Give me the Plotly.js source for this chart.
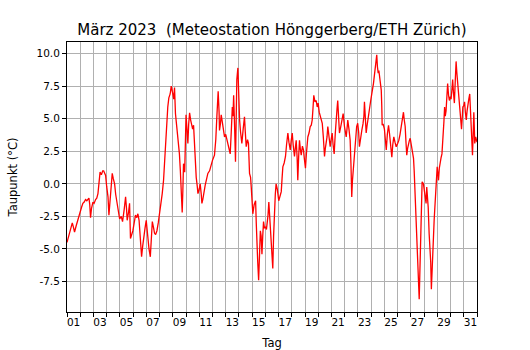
<!DOCTYPE html>
<html>
<head>
<meta charset="utf-8">
<script src="https://cdn.plot.ly/plotly-3.0.1.min.js"></script>
<style>html,body{margin:0;padding:0;background:#fff;}#chart{width:530px;height:350px;}</style>
</head>
<body>
<div id="chart"></div>
<script>
// Zeit in Tagen seit 1. März 2023 00:00
const tage = [
0.0,0.1,0.2,0.3,0.4,0.48,0.57,0.7,0.85,1.0,1.1,1.2,1.3,1.4,1.5,1.66,1.72,1.78,1.85,1.96,
2.05,2.16,2.25,2.34,2.42,2.5,2.6,2.7,2.77,2.85,2.92,3.0,3.1,3.17,3.22,3.27,3.35,3.42,3.5,3.6,
3.68,3.77,3.88,3.98,4.1,4.2,4.32,4.43,4.5,4.55,4.65,4.73,4.8,4.9,4.98,5.08,5.18,5.28,5.36,5.45,
5.49,5.58,5.64,5.72,5.79,5.9,5.99,6.05,6.12,6.2,6.3,6.38,6.45,6.55,6.62,6.7,6.8,6.9,7.0,7.1,
7.2,7.3,7.38,7.45,7.55,7.62,7.7,7.8,7.88,7.94,8.0,8.07,8.13,8.2,8.3,8.38,8.45,8.5,8.57,8.64,
8.71,8.76,8.81,8.9,8.95,9.0,9.07,9.14,9.2,9.27,9.35,9.42,9.5,9.57,9.64,9.7,9.77,9.85,9.9,10.0,
10.07,10.15,10.2,10.27,10.35,10.45,10.53,10.65,10.78,10.9,11.0,11.15,11.25,11.33,11.43,11.5,11.53,11.6,11.66,11.75,
11.83,11.91,12.0,12.08,12.16,12.25,12.34,12.42,12.5,12.55,12.6,12.67,12.74,12.8,12.84,12.92,12.98,13.05,13.12,13.22,
13.32,13.42,13.48,13.55,13.65,13.72,13.8,13.88,13.93,14.0,14.05,14.15,14.26,14.31,14.36,14.42,14.49,14.55,14.62,14.68,
14.74,14.8,14.86,14.93,15.01,15.08,15.14,15.2,15.26,15.33,15.41,15.48,15.56,15.62,15.69,15.75,15.81,15.9,16.01,16.1,
16.2,16.26,16.32,16.42,16.52,16.6,16.7,16.78,16.88,16.95,17.03,17.1,17.2,17.27,17.33,17.4,17.45,17.52,17.58,17.65,
17.71,17.8,17.88,17.95,18.03,18.1,18.21,18.3,18.39,18.47,18.54,18.6,18.66,18.75,18.84,18.92,18.99,19.07,19.15,19.22,
19.3,19.38,19.47,19.53,19.6,19.66,19.72,19.8,19.9,19.97,20.05,20.12,20.2,20.28,20.35,20.42,20.47,20.53,20.6,20.7,
20.81,20.88,20.98,21.05,21.11,21.17,21.23,21.32,21.41,21.47,21.53,21.58,21.66,21.74,21.81,21.9,21.98,22.05,22.11,22.2,
22.29,22.38,22.45,22.49,22.55,22.62,22.68,22.74,22.8,22.87,22.95,23.05,23.12,23.17,23.25,23.32,23.38,23.42,23.47,23.53,
23.58,23.63,23.7,23.76,23.8,23.83,23.9,24.0,24.07,24.14,24.22,24.31,24.38,24.44,24.5,24.56,24.63,24.71,24.8,24.89,
25.0,25.09,25.18,25.27,25.35,25.44,25.5,25.57,25.63,25.69,25.75,25.82,25.88,25.95,26.0,26.07,26.13,26.2,26.25,26.3,
26.35,26.4,26.44,26.48,26.52,26.55,26.6,26.63,26.67,26.7,26.74,26.78,26.82,26.85,26.95,27.0,27.05,27.1,27.15,27.2,
27.25,27.31,27.38,27.46,27.5,27.55,27.6,27.66,27.72,27.76,27.82,27.89,27.94,27.99,28.04,28.09,28.15,28.22,28.28,28.35,
28.4,28.45,28.5,28.55,28.6,28.66,28.72,28.78,28.85,28.91,28.98,29.04,29.1,29.16,29.22,29.29,29.36,29.42,29.47,29.52,
29.57,29.62,29.68,29.73,29.78,29.83,29.88,29.93,30.0,30.06,30.12,30.19,30.25,30.32,30.38,30.45,30.5,30.55,30.6,30.66,
30.71,30.76,30.8,30.83,30.9,30.96,31.0
];
// Taupunkt in °C
const taupunkt = [
-4.5,-4.1,-3.7,-3.4,-3.0,-3.3,-3.7,-3.2,-2.6,-2.0,-1.8,-1.5,-1.4,-1.2,-1.3,-1.1,-1.6,-2.6,-1.9,-1.4,
-1.5,-1.2,-1.1,-0.75,0.2,0.9,0.7,1.0,1.0,0.8,0.65,-0.2,-1.0,-2.4,-1.6,-1.0,0.2,0.8,0.4,0.0,
-0.8,-1.5,-2.2,-2.7,-2.5,-2.9,-2.0,-1.0,-1.9,-2.8,-2.2,-1.5,-4.2,-3.9,-3.6,-3.0,-2.4,-2.6,-2.3,-2.8,
-3.3,-4.5,-5.6,-4.8,-4.1,-3.4,-2.8,-3.6,-4.4,-5.0,-5.6,-4.0,-2.9,-3.4,-3.8,-3.9,-3.6,-3.0,-2.3,-1.6,
-0.75,0.27,1.8,3.35,5.15,5.9,6.6,6.9,7.5,7.0,6.9,6.5,7.4,5.4,4.4,3.6,3.1,2.3,1.0,-0.5,
-2.2,-0.5,1.55,0.9,3.0,5.3,4.2,3.1,4.6,5.45,4.9,4.65,4.2,4.5,2.6,1.5,0.5,-0.2,-0.75,-0.4,
0.0,-0.8,-1.5,-1.2,-0.6,-0.1,0.27,0.8,1.0,1.55,1.8,2.2,3.4,5.15,7.1,5.5,4.1,4.6,5.3,4.7,
4.0,3.6,3.8,3.4,3.2,2.8,2.3,4.0,5.9,5.2,6.8,4.5,1.7,5.5,8.0,8.9,6.8,4.9,4.0,3.1,
4.2,5.15,4.0,2.85,3.4,3.1,0.8,0.5,-0.25,-1.2,-2.3,-1.6,-1.3,-3.0,-5.1,-6.0,-7.4,-5.2,-3.6,-4.0,
-5.4,-4.0,-2.9,-3.4,-3.3,-3.5,-3.1,-2.4,-1.4,-2.8,-4.4,-5.3,-6.5,-4.0,-1.8,-0.8,0.0,-0.4,-1.3,-1.0,
-0.6,0.4,1.3,1.6,2.1,3.0,3.9,3.2,2.6,3.3,3.9,3.0,2.1,2.8,3.35,2.0,0.27,2.2,3.35,2.6,
2.2,2.9,2.6,1.9,1.2,2.3,3.6,3.9,4.4,4.5,4.9,5.8,6.8,6.3,6.4,5.9,6.2,5.5,5.15,5.0,
4.65,3.6,2.1,2.7,3.1,3.6,4.4,3.5,2.85,3.4,3.9,3.0,2.3,3.8,5.4,5.8,6.4,5.0,3.9,4.4,
5.0,5.4,4.4,4.0,3.6,4.2,4.9,4.2,3.35,1.5,-1.0,0.2,1.3,2.2,3.35,4.4,4.65,4.0,2.85,3.6,
4.1,4.6,5.2,6.3,4.5,3.9,4.4,4.9,5.5,5.8,6.3,6.95,7.3,7.7,8.4,9.0,9.5,9.9,9.0,8.5,
8.7,8.2,7.8,7.2,6.0,4.5,4.6,4.2,3.4,2.6,3.8,4.5,3.9,3.35,2.6,2.05,3.0,3.6,3.2,2.85,
3.1,3.35,3.8,4.4,4.9,5.5,4.9,4.4,3.2,2.2,2.7,3.1,3.3,3.5,3.2,2.85,2.4,1.95,1.0,-0.25,
-1.5,-2.8,-3.8,-4.8,-5.6,-6.4,-7.6,-8.85,-7.2,-5.9,-4.6,-3.3,-1.5,0.15,0.0,-0.5,-1.0,-1.2,-1.5,-0.25,
-0.9,-1.8,-3.8,-4.8,-6.0,-8.1,-6.5,-4.8,-3.6,-2.8,-1.7,-0.5,0.4,1.3,0.8,0.27,1.2,1.95,2.0,2.3,
3.0,3.6,4.8,5.9,5.2,5.6,6.5,7.7,6.8,6.4,6.7,6.5,7.2,8.0,7.0,6.2,8.0,9.4,8.6,8.0,
7.2,6.7,5.8,5.15,4.6,4.2,5.0,5.9,6.0,6.3,5.5,4.9,5.6,6.4,6.5,6.9,5.5,4.4,3.0,2.2,
3.8,5.5,4.2,3.1,3.6,3.35,3.2
];
// Beschriftung der x-Achse (Tagesmitte ungerader Tage)
const tagPos = [0.5,2.5,4.5,6.5,8.5,10.5,12.5,14.5,16.5,18.5,20.5,22.5,24.5,26.5,28.5,30.5];
const tagText = ["01","03","05","07","09","11","13","15","17","19","21","23","25","27","29","31"];
const yTicks = [-7.5,-5.0,-2.5,0.0,2.5,5.0,7.5,10.0];

const tickFont = {family: "DejaVu Sans, sans-serif", size: 10.5, color: "#000"};
const labelFont = {family: "DejaVu Sans, sans-serif", size: 11.5, color: "#000"};
const gridColor = "#b0b0b0";

Plotly.newPlot("chart", [{
  x: tage, y: taupunkt, type: "scatter", mode: "lines",
  line: {color: "#ff0000", width: 1.3}, hoverinfo: "skip"
}], {
  width: 530, height: 350,
  margin: {l: 67, r: 53, t: 42, b: 38, pad: 0},
  paper_bgcolor: "#fff", plot_bgcolor: "#fff",
  font: tickFont,
  showlegend: false,
  title: {text: "März 2023  (Meteostation Hönggerberg/ETH Zürich)", x: 0.5, xref: "paper", xanchor: "center",
          y: 1, yref: "paper", yanchor: "bottom", pad: {b: 7},
          font: {family: "DejaVu Sans, sans-serif", size: 15, color: "#000"}},
  xaxis: {
    range: [0, 31], type: "linear",
    tickmode: "array", tickvals: tagPos, ticktext: tagText,
    ticks: "", showgrid: false, zeroline: false,
    showline: true, linecolor: "#000", linewidth: 1, mirror: true,
    tickfont: tickFont,
    minor: {tickmode: "linear", tick0: 0, dtick: 1, ticks: "outside", ticklen: 4, tickcolor: "#000", tickwidth: 1,
            showgrid: true, gridcolor: gridColor, gridwidth: 1},
    title: {text: "Tag", font: labelFont, standoff: 12}
  },
  yaxis: {
    range: [-9.84, 10.89],
    tickmode: "array", tickvals: yTicks, ticktext: yTicks.map(v => v.toFixed(1)),
    ticks: "outside", ticklen: 4, tickcolor: "#000",
    showgrid: true, gridcolor: gridColor, gridwidth: 1, zeroline: false,
    showline: true, linecolor: "#000", linewidth: 1, mirror: true,
    tickfont: tickFont,
    title: {text: "Taupunkt (°C)", font: labelFont, standoff: 16}
  }
}, {staticPlot: true, displayModeBar: false});
</script>
</body>
</html>
